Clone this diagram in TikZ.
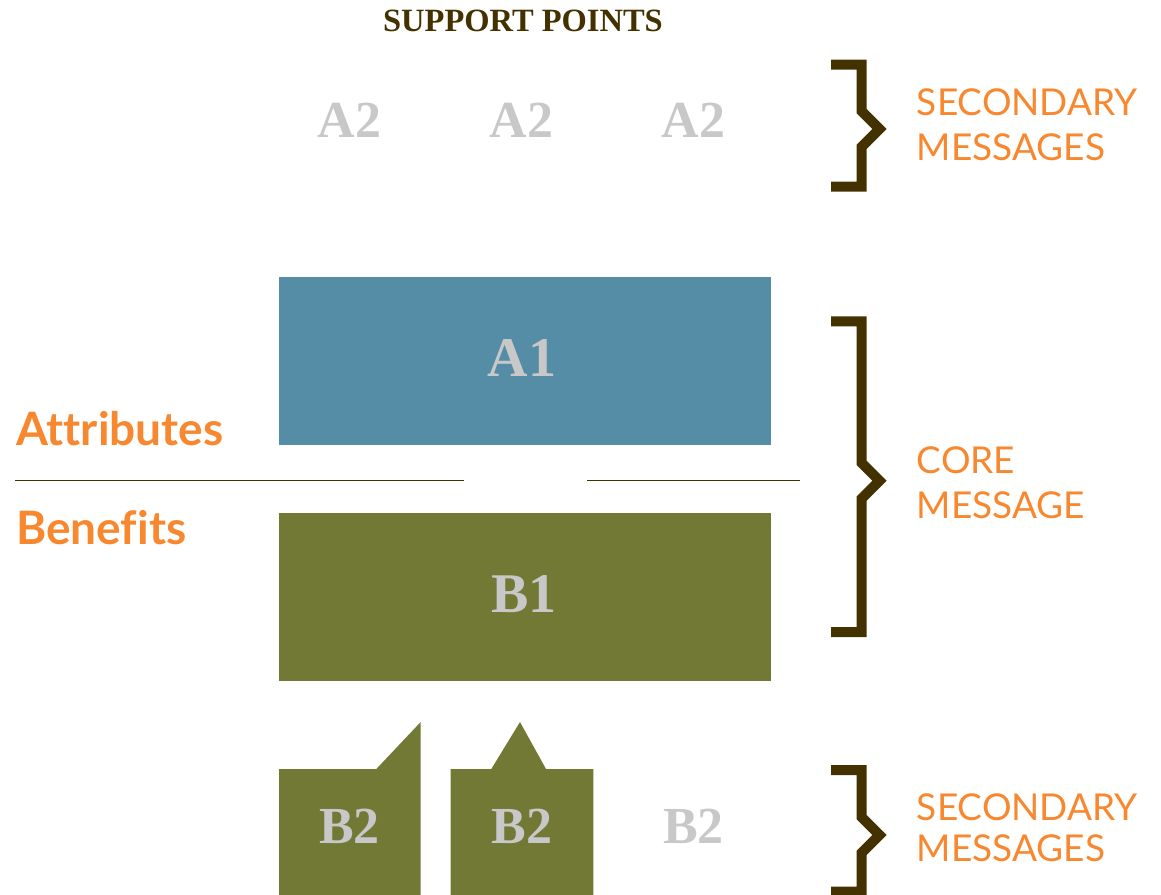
\documentclass[tikz,border=0pt]{standalone}
\usepackage{fontspec}
\setmainfont{Liberation Serif}
\newfontfamily\lblfont[Ligatures=NoCommon]{Lato}
\definecolor{brk}{HTML}{433100}
\definecolor{org}{HTML}{F7882F}
\definecolor{gry}{HTML}{C8C8C8}
\definecolor{teal}{HTML}{568DA6}
\definecolor{olv}{HTML}{727935}
\begin{document}
\begin{tikzpicture}[x=1pt,y=-1pt,
  bracket/.style={draw=brk,line width=10pt,miter limit=10,line join=miter},
  sidelabel/.style={anchor=base west,inner sep=0pt,text=org,font=\lblfont\fontsize{37}{45}\selectfont},
  leftlabel/.style={anchor=base west,inner sep=0pt,text=org,font=\lblfont\bfseries\fontsize{46}{50}\selectfont},
  bigtag/.style={anchor=base,inner sep=0pt,text=gry,font=\bfseries\fontsize{56}{60}\selectfont},
  smalltag/.style={anchor=base,inner sep=0pt,text=gry,font=\bfseries\fontsize{52}{56}\selectfont},
  divider/.style={draw=brk,line width=1.6pt}]
\useasboundingbox (0,0) rectangle (1161,894);
% title
\node[anchor=base,inner sep=0pt,text=brk,font=\bfseries\fontsize{32.5}{36}\selectfont] (title) at (523,31.5) {SUPPORT POINTS};
% A2 labels
\node[smalltag] (a2a) at (349.5,137) {A2};
\node[smalltag] (a2b) at (521.7,137) {A2};
\node[smalltag] (a2c) at (693.5,137) {A2};
% core boxes
\fill[teal] (279,277) rectangle (771,445);
\fill[olv] (279,513) rectangle (771,681);
\node[bigtag] (a1) at (522,376) {A1};
\node[bigtag] (b1) at (524,612) {B1};
% dividers
\coordinate (d1) at (15,480.5);
\coordinate (d2) at (464,480.5);
\coordinate (d3) at (587,480.5);
\coordinate (d4) at (800,480.5);
\draw[divider] (d1) -- (d2);
\draw[divider] (d3) -- (d4);
\node[leftlabel] (attr) at (16,445) {Attributes};
\node[leftlabel] (ben) at (16,544.5) {Benefits};
% B2 shapes
\fill[olv] (279,900) -- (279,769) -- (376.3,769) -- (420.7,722) -- (420.7,900) -- cycle;
\fill[olv] (450.7,900) -- (450.7,769) -- (491.3,769) -- (520,722) -- (546,769) -- (593.3,769) -- (593.3,900) -- cycle;
\node[smalltag] (b2a) at (349.5,843.3) {B2};
\node[smalltag] (b2b) at (521.7,843.3) {B2};
\node[smalltag] (b2c) at (693.5,843.3) {B2};
% brackets
\draw[bracket] (831,64.5) -- (861.5,64.5) -- (861.5,111) -- (879.5,129) -- (861.5,147) -- (861.5,186.7) -- (831,186.7);
\draw[bracket] (831,321.3) -- (861.5,321.3) -- (861.5,462.7) -- (879.5,480.7) -- (861.5,498.7) -- (861.5,632) -- (831,632);
\draw[bracket] (831,770) -- (861.5,770) -- (861.5,817) -- (879.5,835) -- (861.5,853) -- (861.5,891.7) -- (831,891.7);
% side labels
\node[sidelabel] (s1a) at (916.7,115) {SECONDARY};
\node[sidelabel] (s1b) at (916.7,160) {MESSAGES};
\node[sidelabel] (c1a) at (916.7,473.3) {CORE};
\node[sidelabel] (c1b) at (916.7,518.3) {MESSAGE};
\node[sidelabel] (s2a) at (916.7,820.7) {SECONDARY};
\node[sidelabel] (s2b) at (916.7,861.7) {MESSAGES};
\end{tikzpicture}
\end{document}
